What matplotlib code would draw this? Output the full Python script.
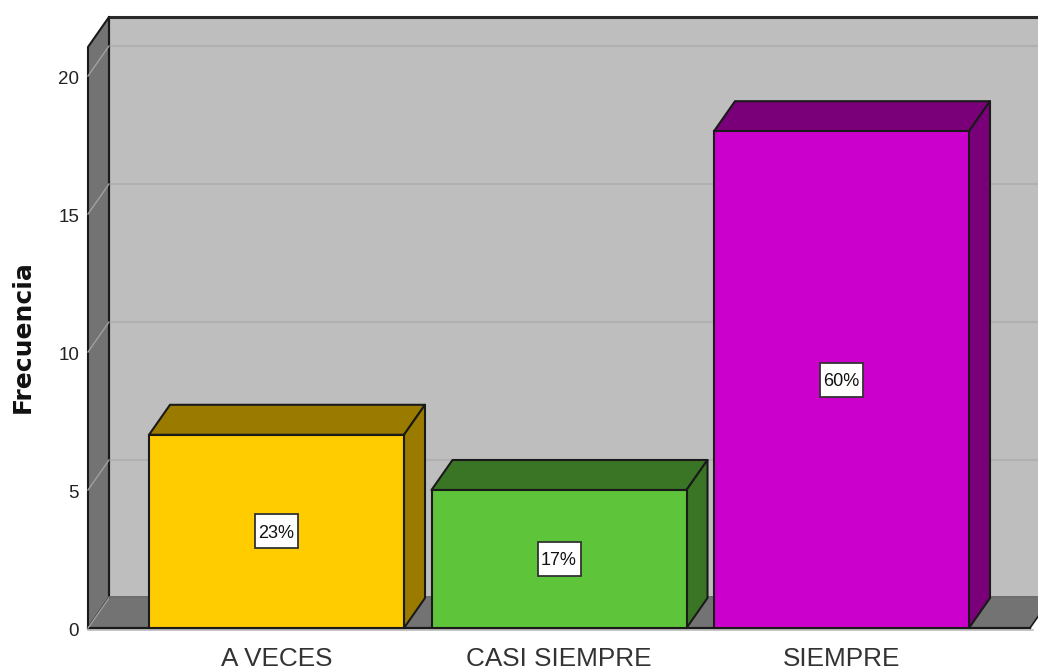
import numpy as np
import matplotlib
matplotlib.use('Agg')
import matplotlib.pyplot as plt
from matplotlib.patches import Polygon, Rectangle

plt.rcParams['font.family'] = ['Liberation Sans', 'DejaVu Sans']

categorias = ['A VECES', 'CASI SIEMPRE', 'SIEMPRE']
frecuencia = [7, 5, 18]
porcentajes = ['23%', '17%', '60%']
colores = ['#FFCC00', '#5EC43A', '#CC00CC']
colores_oscuros = ['#9A7B00', '#3A7526', '#7A007A']
ticks_y = [0, 5, 10, 15, 20]

# escala: un ax a toda la figura, en unidades de categoria y frecuencia
W, H = 1038, 670
px_x = 282.5
px_y = 27.6
x0 = 276.5
y0 = 628
dx = 21 / px_x
dy = 30 / px_y
ancho = 255 / px_x
x_izq = (88 - x0) / px_x
x_der = (1030 - x0) / px_x
y_techo = (y0 - 17) / px_y

fig = plt.figure(figsize=(W / 100, H / 100), dpi=100)
ax = fig.add_axes([0, 0, 1, 1])
ax.set_xlim(-x0 / px_x, (W - x0) / px_x)
ax.set_ylim((y0 - H) / px_y, y0 / px_y)
ax.axis('off')

negro = '#1A1A1A'
x_fin = x_der + dx


def poly(pts, color, lw=1.5, z=1):
    ax.add_patch(Polygon(pts, closed=True, facecolor=color, edgecolor=negro if lw else 'none',
                         linewidth=lw, joinstyle='round', zorder=z))


# paredes y piso
poly([(x_izq + dx, dy), (x_fin, dy), (x_fin, y_techo), (x_izq + dx, y_techo)], '#BEBEBE', lw=0, z=1)
poly([(x_izq, 0), (x_izq + dx, dy), (x_izq + dx, y_techo), (x_izq, y_techo - dy)], '#737373', z=2)
poly([(x_izq, 0), (x_der, 0), (x_fin, dy), (x_izq + dx, dy)], '#737373', lw=0, z=2)
ax.plot([x_izq, x_der], [0, 0], color=negro, lw=1.6, zorder=3)
ax.plot([x_der, x_fin], [0, dy], color=negro, lw=1.2, zorder=3)
ax.plot([x_izq, x_der + 0.01], [-0.09, -0.09], color='#BBBBBB', lw=1.2, zorder=2)
ax.plot([x_izq + dx, x_fin], [y_techo, y_techo], color='#2A2A2A', lw=2.2, zorder=3)
ax.plot([x_izq + dx, x_izq + dx], [dy, y_techo], color=negro, lw=1.5, zorder=3)
ax.plot([x_izq + dx, x_fin], [dy + 0.02, dy + 0.02], color='#5F5F5F', lw=1.2, zorder=3)

# rejilla
for t in ticks_y[1:]:
    ax.plot([x_izq + dx, x_fin], [t + dy, t + dy], color='#B0B0B0', lw=1.5, zorder=2)
for t in ticks_y:
    ax.plot([x_izq, x_izq + dx], [t, t + dy], color='#A0A0A0', lw=1, zorder=3)

# barras 3D
pos = np.arange(len(categorias))
ax.bar(pos, frecuencia, width=ancho, color=colores, edgecolor=negro, linewidth=1.5, zorder=5)
for p, f, c in zip(pos, frecuencia, colores_oscuros):
    izq = p - ancho / 2
    der = p + ancho / 2
    poly([(izq, f), (der, f), (der + dx, f + dy), (izq + dx, f + dy)], c, z=4)
    poly([(der, 0), (der + dx, dy), (der + dx, f + dy), (der, f)], c, z=4)

# porcentajes sobre cada barra, en caja blanca
caja_w = 43 / px_x
caja_h = 34 / px_y
for p, f, txt in zip(pos, frecuencia, porcentajes):
    ax.add_patch(Rectangle((p - caja_w / 2, f / 2 - caja_h / 2), caja_w, caja_h, facecolor='white',
                           edgecolor='#333333', linewidth=1.3, zorder=6))
    ax.text(p, f / 2 - 0.06, txt, ha='center', va='center', fontsize=13, color='#111111', zorder=7)

for t in ticks_y:
    ax.text((79 - x0) / px_x, t - 0.13, str(t), ha='right', va='center', fontsize=13.5, color='#222222')
for p, c in zip(pos, categorias):
    ax.text(p, (y0 - 659) / px_y, c, ha='center', va='center', fontsize=18.8, color='#333333')
ax.text((23 - x0) / px_x, (y0 - 337) / px_y, 'Frecuencia', rotation=90, ha='center', va='center',
        fontsize=18, fontweight='bold', family=['DejaVu Sans'], color='#111111')

fig.savefig('out.png', dpi=100, facecolor='white')
